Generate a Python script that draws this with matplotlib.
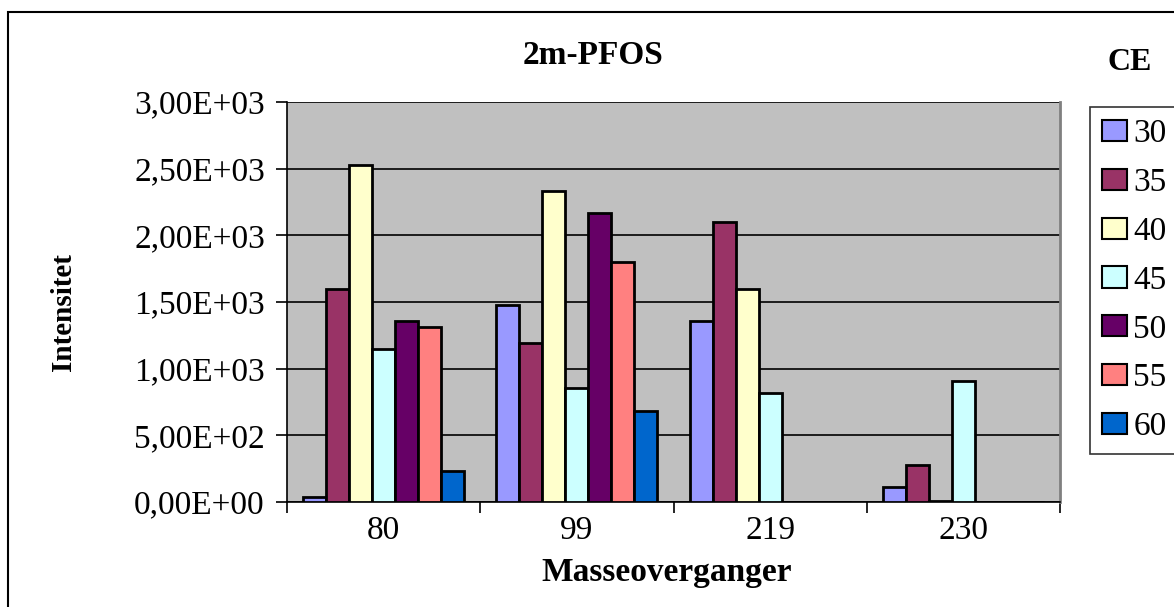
import matplotlib
matplotlib.use('Agg')
import matplotlib.pyplot as plt
import matplotlib.patches as mpatches
import numpy as np

# data
categories = ['80', '99', '219', '230']
ce_levels = ['30', '35', '40', '45', '50', '55', '60']
intensity = {
    '30': [40, 1480, 1360, 110],
    '35': [1600, 1190, 2100, 275],
    '40': [2530, 2330, 1600, 10],
    '45': [1150, 855, 820, 905],
    '50': [1360, 2170, 0, 0],
    '55': [1310, 1800, 0, 0],
    '60': [230, 680, 0, 0],
}
bar_colors = ['#9999FF', '#993366', '#FFFFCC', '#CCFFFF',
              '#660066', '#FF8080', '#0066CC']
y_ticks = [0, 500, 1000, 1500, 2000, 2500, 3000]

plt.rcParams['font.family'] = ['Liberation Serif', 'DejaVu Serif']

W, H = 1174, 607
fig = plt.figure(figsize=(W / 100, H / 100), dpi=100, facecolor='white')

# outer chart frame (only left/top edges visible in the crop)
frame = mpatches.Rectangle((8 / W, -0.1), 1.2, 1 - 11.5 / H + 0.1,
                           transform=fig.transFigure, fill=False,
                           edgecolor='black', linewidth=1.5)
fig.patches.append(frame)

ax = fig.add_axes([287 / W, 1 - 502 / H, (1060 - 287) / W, (502 - 102) / H],
                  facecolor='#C0C0C0')

n = len(ce_levels)
bw = 0.119
x = np.arange(len(categories))
for i, ce in enumerate(ce_levels):
    offs = (i - (n - 1) / 2) * bw
    ax.bar(x + offs, intensity[ce], width=bw, color=bar_colors[i],
           edgecolor='black', linewidth=2, label=ce, zorder=3)

ax.set_xlim(-0.5, len(categories) - 0.5)
ax.set_ylim(0, 3000)
ax.set_yticks(y_ticks)
ax.set_yticklabels([('%.2E' % v).replace('.', ',') for v in y_ticks],
                   fontsize=24)
ax.yaxis.grid(True, color='black', linewidth=1.2, zorder=1)
ax.set_axisbelow(True)

ax.set_xticks(x)
ax.set_xticklabels(categories, fontsize=24)
ax.tick_params(axis='x', length=0, pad=10)
ax.set_xticks(np.arange(len(categories) + 1) - 0.5, minor=True)
ax.tick_params(axis='x', which='minor', length=8, width=1.2, direction='out')
ax.tick_params(axis='y', length=8, width=1.2, direction='out', pad=8)

ax.spines['top'].set_visible(False)
ax.spines['right'].set_color('#808080')
ax.spines['right'].set_linewidth(2)
ax.spines['left'].set_linewidth(1.2)
ax.spines['bottom'].set_linewidth(1.2)

fig.text(593 / W, 1 - 55 / H, '2m-PFOS', ha='center', va='center',
         fontsize=24, fontweight='bold')
fig.text(667 / W, 1 - 573 / H, 'Masseoverganger', ha='center', va='center',
         fontsize=24, fontweight='bold')
fig.text(63 / W, 1 - 312 / H, 'Intensitet', ha='center', va='center',
         rotation=90, fontsize=21, fontweight='bold')
fig.text(1130 / W, 1 - 62 / H, 'CE', ha='center', va='center',
         fontsize=23, fontweight='bold')

handles = [mpatches.Patch(facecolor=c, edgecolor='black', linewidth=1.5)
           for c in bar_colors]
leg = fig.legend(handles, ce_levels, loc='upper left',
                 bbox_to_anchor=(1090 / W, 1 - 107 / H),
                 fontsize=24, frameon=True, fancybox=False,
                 edgecolor='black', handlelength=0.75, handleheight=0.6,
                 handletextpad=0.2, labelspacing=0.55, borderpad=0.35,
                 borderaxespad=0)
leg.get_frame().set_linewidth(1.2)

fig.savefig('out.png', dpi=100, facecolor='white')
